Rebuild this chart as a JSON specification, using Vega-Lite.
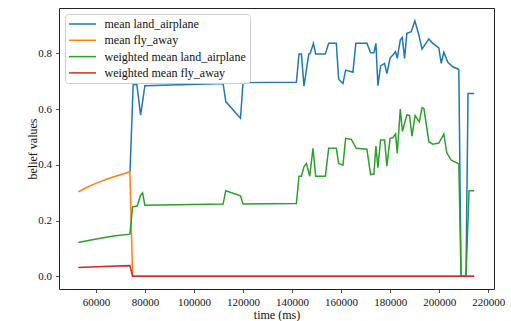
{
  "$schema": "https://vega.github.io/schema/vega-lite/v6.json",
  "width": 435,
  "height": 281,
  "autosize": {"type": "none"},
  "padding": {"left": 59, "top": 8, "right": 17, "bottom": 32},
  "background": "white",
  "config": {
    "font": "Liberation Serif",
    "view": {"stroke": "#222222", "strokeWidth": 1},
    "axis": {
      "domain": false,
      "grid": false,
      "tickColor": "#222222",
      "tickSize": 3.5,
      "tickWidth": 0.8,
      "labelFont": "Liberation Serif",
      "labelFontSize": 11,
      "labelColor": "#111111",
      "titleFont": "Liberation Serif",
      "titleFontSize": 12,
      "titleFontWeight": "normal",
      "titleColor": "#111111"
    }
  },
  "data": {
    "values": [
      {"t": 73900, "s": "mean land_airplane", "v": 0.375},
      {"t": 75196, "s": "mean land_airplane", "v": 0.688},
      {"t": 76700, "s": "mean land_airplane", "v": 0.688},
      {"t": 78211, "s": "mean land_airplane", "v": 0.578},
      {"t": 79963, "s": "mean land_airplane", "v": 0.684},
      {"t": 111860, "s": "mean land_airplane", "v": 0.692},
      {"t": 112962, "s": "mean land_airplane", "v": 0.627},
      {"t": 118950, "s": "mean land_airplane", "v": 0.567},
      {"t": 120010, "s": "mean land_airplane", "v": 0.695},
      {"t": 141765, "s": "mean land_airplane", "v": 0.696},
      {"t": 142825, "s": "mean land_airplane", "v": 0.798},
      {"t": 143800, "s": "mean land_airplane", "v": 0.798},
      {"t": 144860, "s": "mean land_airplane", "v": 0.682},
      {"t": 146800, "s": "mean land_airplane", "v": 0.797},
      {"t": 147400, "s": "mean land_airplane", "v": 0.800},
      {"t": 148700, "s": "mean land_airplane", "v": 0.836},
      {"t": 149626, "s": "mean land_airplane", "v": 0.798},
      {"t": 153580, "s": "mean land_airplane", "v": 0.798},
      {"t": 154924, "s": "mean land_airplane", "v": 0.836},
      {"t": 158060, "s": "mean land_airplane", "v": 0.836},
      {"t": 158998, "s": "mean land_airplane", "v": 0.707},
      {"t": 160750, "s": "mean land_airplane", "v": 0.692},
      {"t": 161850, "s": "mean land_airplane", "v": 0.740},
      {"t": 164822, "s": "mean land_airplane", "v": 0.732},
      {"t": 166000, "s": "mean land_airplane", "v": 0.836},
      {"t": 170527, "s": "mean land_airplane", "v": 0.836},
      {"t": 172035, "s": "mean land_airplane", "v": 0.802},
      {"t": 173380, "s": "mean land_airplane", "v": 0.802},
      {"t": 174194, "s": "mean land_airplane", "v": 0.836},
      {"t": 175010, "s": "mean land_airplane", "v": 0.684},
      {"t": 176110, "s": "mean land_airplane", "v": 0.755},
      {"t": 177740, "s": "mean land_airplane", "v": 0.764},
      {"t": 178675, "s": "mean land_airplane", "v": 0.727},
      {"t": 179980, "s": "mean land_airplane", "v": 0.783},
      {"t": 181120, "s": "mean land_airplane", "v": 0.794},
      {"t": 182220, "s": "mean land_airplane", "v": 0.806},
      {"t": 182913, "s": "mean land_airplane", "v": 0.782},
      {"t": 184135, "s": "mean land_airplane", "v": 0.848},
      {"t": 184950, "s": "mean land_airplane", "v": 0.857},
      {"t": 185890, "s": "mean land_airplane", "v": 0.782},
      {"t": 186826, "s": "mean land_airplane", "v": 0.872},
      {"t": 188620, "s": "mean land_airplane", "v": 0.878},
      {"t": 190080, "s": "mean land_airplane", "v": 0.917},
      {"t": 191710, "s": "mean land_airplane", "v": 0.866},
      {"t": 193020, "s": "mean land_airplane", "v": 0.815},
      {"t": 195790, "s": "mean land_airplane", "v": 0.852},
      {"t": 197420, "s": "mean land_airplane", "v": 0.836},
      {"t": 199860, "s": "mean land_airplane", "v": 0.820},
      {"t": 200840, "s": "mean land_airplane", "v": 0.764},
      {"t": 201900, "s": "mean land_airplane", "v": 0.804},
      {"t": 203530, "s": "mean land_airplane", "v": 0.768},
      {"t": 205570, "s": "mean land_airplane", "v": 0.752},
      {"t": 207610, "s": "mean land_airplane", "v": 0.744},
      {"t": 208020, "s": "mean land_airplane", "v": 0.742},
      {"t": 208920, "s": "mean land_airplane", "v": 0.0},
      {"t": 210950, "s": "mean land_airplane", "v": 0.0},
      {"t": 211770, "s": "mean land_airplane", "v": 0.656},
      {"t": 214280, "s": "mean land_airplane", "v": 0.656},

      {"t": 52800, "s": "mean fly_away", "v": 0.303},
      {"t": 55000, "s": "mean fly_away", "v": 0.313},
      {"t": 58000, "s": "mean fly_away", "v": 0.326},
      {"t": 61000, "s": "mean fly_away", "v": 0.337},
      {"t": 64000, "s": "mean fly_away", "v": 0.347},
      {"t": 67000, "s": "mean fly_away", "v": 0.356},
      {"t": 70000, "s": "mean fly_away", "v": 0.364},
      {"t": 73850, "s": "mean fly_away", "v": 0.375},
      {"t": 74952, "s": "mean fly_away", "v": 0.0},
      {"t": 214280, "s": "mean fly_away", "v": 0.0},

      {"t": 52800, "s": "weighted mean land_airplane", "v": 0.121},
      {"t": 58000, "s": "weighted mean land_airplane", "v": 0.130},
      {"t": 63000, "s": "weighted mean land_airplane", "v": 0.138},
      {"t": 68000, "s": "weighted mean land_airplane", "v": 0.145},
      {"t": 73850, "s": "weighted mean land_airplane", "v": 0.151},
      {"t": 74952, "s": "weighted mean land_airplane", "v": 0.249},
      {"t": 76826, "s": "weighted mean land_airplane", "v": 0.252},
      {"t": 78211, "s": "weighted mean land_airplane", "v": 0.291},
      {"t": 79026, "s": "weighted mean land_airplane", "v": 0.299},
      {"t": 79963, "s": "weighted mean land_airplane", "v": 0.255},
      {"t": 111860, "s": "weighted mean land_airplane", "v": 0.259},
      {"t": 112962, "s": "weighted mean land_airplane", "v": 0.307},
      {"t": 118950, "s": "weighted mean land_airplane", "v": 0.289},
      {"t": 120010, "s": "weighted mean land_airplane", "v": 0.259},
      {"t": 141765, "s": "weighted mean land_airplane", "v": 0.261},
      {"t": 142825, "s": "weighted mean land_airplane", "v": 0.359},
      {"t": 143800, "s": "weighted mean land_airplane", "v": 0.359},
      {"t": 144860, "s": "weighted mean land_airplane", "v": 0.393},
      {"t": 145840, "s": "weighted mean land_airplane", "v": 0.405},
      {"t": 147184, "s": "weighted mean land_airplane", "v": 0.359},
      {"t": 148530, "s": "weighted mean land_airplane", "v": 0.459},
      {"t": 149626, "s": "weighted mean land_airplane", "v": 0.359},
      {"t": 153580, "s": "weighted mean land_airplane", "v": 0.359},
      {"t": 154924, "s": "weighted mean land_airplane", "v": 0.459},
      {"t": 158060, "s": "weighted mean land_airplane", "v": 0.459},
      {"t": 158998, "s": "weighted mean land_airplane", "v": 0.405},
      {"t": 160750, "s": "weighted mean land_airplane", "v": 0.399},
      {"t": 161850, "s": "weighted mean land_airplane", "v": 0.495},
      {"t": 164170, "s": "weighted mean land_airplane", "v": 0.491},
      {"t": 166210, "s": "weighted mean land_airplane", "v": 0.459},
      {"t": 170527, "s": "weighted mean land_airplane", "v": 0.456},
      {"t": 172035, "s": "weighted mean land_airplane", "v": 0.365},
      {"t": 173380, "s": "weighted mean land_airplane", "v": 0.367},
      {"t": 174194, "s": "weighted mean land_airplane", "v": 0.467},
      {"t": 175010, "s": "weighted mean land_airplane", "v": 0.390},
      {"t": 176110, "s": "weighted mean land_airplane", "v": 0.489},
      {"t": 177740, "s": "weighted mean land_airplane", "v": 0.489},
      {"t": 178675, "s": "weighted mean land_airplane", "v": 0.395},
      {"t": 179980, "s": "weighted mean land_airplane", "v": 0.495},
      {"t": 181120, "s": "weighted mean land_airplane", "v": 0.497},
      {"t": 182220, "s": "weighted mean land_airplane", "v": 0.511},
      {"t": 182913, "s": "weighted mean land_airplane", "v": 0.441},
      {"t": 184135, "s": "weighted mean land_airplane", "v": 0.600},
      {"t": 185000, "s": "weighted mean land_airplane", "v": 0.520},
      {"t": 186826, "s": "weighted mean land_airplane", "v": 0.579},
      {"t": 187900, "s": "weighted mean land_airplane", "v": 0.577},
      {"t": 188900, "s": "weighted mean land_airplane", "v": 0.503},
      {"t": 190200, "s": "weighted mean land_airplane", "v": 0.577},
      {"t": 191910, "s": "weighted mean land_airplane", "v": 0.554},
      {"t": 193020, "s": "weighted mean land_airplane", "v": 0.605},
      {"t": 193800, "s": "weighted mean land_airplane", "v": 0.601},
      {"t": 195790, "s": "weighted mean land_airplane", "v": 0.483},
      {"t": 197420, "s": "weighted mean land_airplane", "v": 0.474},
      {"t": 199860, "s": "weighted mean land_airplane", "v": 0.478},
      {"t": 201900, "s": "weighted mean land_airplane", "v": 0.510},
      {"t": 203120, "s": "weighted mean land_airplane", "v": 0.443},
      {"t": 204920, "s": "weighted mean land_airplane", "v": 0.417},
      {"t": 207610, "s": "weighted mean land_airplane", "v": 0.405},
      {"t": 208020, "s": "weighted mean land_airplane", "v": 0.403},
      {"t": 208920, "s": "weighted mean land_airplane", "v": 0.0},
      {"t": 210950, "s": "weighted mean land_airplane", "v": 0.0},
      {"t": 212200, "s": "weighted mean land_airplane", "v": 0.307},
      {"t": 214280, "s": "weighted mean land_airplane", "v": 0.307},

      {"t": 52800, "s": "weighted mean fly_away", "v": 0.031},
      {"t": 63000, "s": "weighted mean fly_away", "v": 0.035},
      {"t": 73850, "s": "weighted mean fly_away", "v": 0.038},
      {"t": 74952, "s": "weighted mean fly_away", "v": 0.0},
      {"t": 214280, "s": "weighted mean fly_away", "v": 0.0}
    ]
  },
  "mark": {"type": "line", "strokeWidth": 1.5, "clip": true},
  "encoding": {
    "x": {
      "field": "t",
      "type": "quantitative",
      "scale": {"domain": [44935, 222365], "nice": false, "zero": false},
      "axis": {
        "title": "time (ms)",
        "values": [60000, 80000, 100000, 120000, 140000, 160000, 180000, 200000, 220000],
        "format": "d",
        "labelPadding": 4,
        "titlePadding": 2
      }
    },
    "y": {
      "field": "v",
      "type": "quantitative",
      "scale": {"domain": [-0.0459, 0.9629], "nice": false, "zero": false},
      "axis": {
        "title": "belief values",
        "values": [0, 0.2, 0.4, 0.6, 0.8],
        "format": ".1f",
        "labelPadding": 4,
        "titlePadding": -2
      }
    },
    "color": {
      "field": "s",
      "type": "nominal",
      "sort": null,
      "scale": {
        "domain": ["mean land_airplane", "mean fly_away", "weighted mean land_airplane", "weighted mean fly_away"],
        "range": ["#1f77b4", "#ff7f0e", "#2ca02c", "#d62728"]
      },
      "legend": {
        "title": null,
        "orient": "none",
        "legendX": 6,
        "legendY": 6,
        "padding": 4,
        "rowPadding": 4.3,
        "symbolType": "M-3.375,0H3.375",
        "symbolSize": 64,
        "symbolStrokeWidth": 1.5,
        "symbolOffset": 7.5,
        "labelOffset": 16,
        "labelFont": "Liberation Serif",
        "labelFontSize": 12,
        "labelColor": "#111111",
        "fillColor": "rgba(255,255,255,0.85)",
        "strokeColor": "#cccccc",
        "cornerRadius": 3
      }
    }
  }
}
